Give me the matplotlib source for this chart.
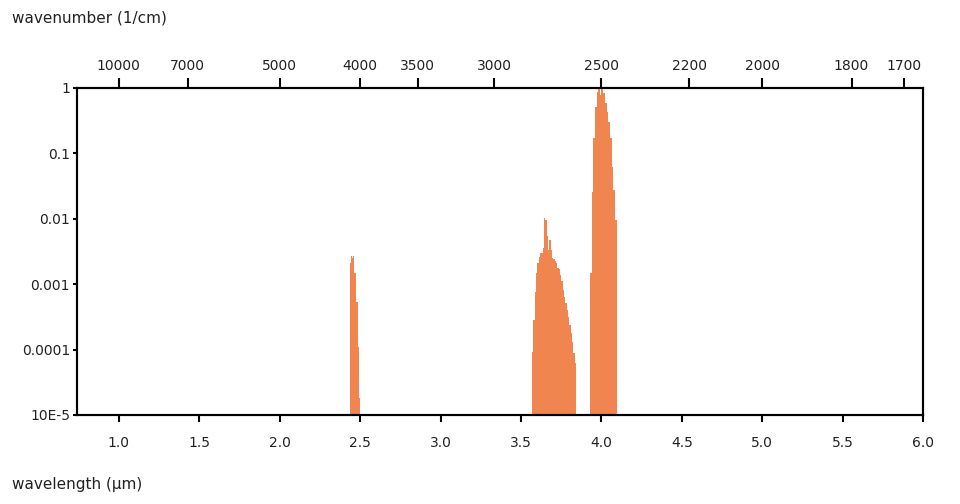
import numpy as np
import matplotlib
matplotlib.use("Agg")
import matplotlib.pyplot as plt

# band edges (wavelength, um) and transmission values
band1_edges = [2.437, 2.445, 2.450, 2.454, 2.462, 2.474, 2.487, 2.495, 2.499]
band1_vals = [0.0021, 0.0027, 0.0025, 0.0027, 0.0015, 0.00054, 0.00011, 1.8e-5]

band2_edges = [3.568, 3.577, 3.585, 3.593, 3.601, 3.610, 3.618, 3.626, 3.635,
               3.643, 3.651, 3.660, 3.668, 3.676, 3.685, 3.693, 3.701, 3.710,
               3.718, 3.726, 3.735, 3.743, 3.751, 3.760, 3.768, 3.776, 3.785,
               3.793, 3.801, 3.810, 3.818, 3.826, 3.835, 3.841]
band2_vals = [9.3e-5, 2.8e-4, 7.7e-4, 1.5e-3, 2.1e-3, 2.6e-3, 3.0e-3, 3.0e-3,
              3.6e-3, 0.0103, 0.0095, 0.0055, 0.0033, 0.0048, 0.0033, 0.0025,
              0.0024, 0.0023, 0.0021, 0.0018, 0.0017, 0.0014, 0.0011, 8.1e-4,
              6.3e-4, 5.1e-4, 4.0e-4, 3.2e-4, 2.4e-4, 1.8e-4, 1.3e-4, 8.9e-5,
              6.3e-5]

band3_edges = [3.929, 3.940, 3.950, 3.960, 3.971, 3.981, 3.990, 3.998, 4.006,
               4.012, 4.022, 4.033, 4.043, 4.053, 4.064, 4.074, 4.084, 4.095,
               4.099]
band3_vals = [0.0015, 0.026, 0.17, 0.51, 0.87, 1.0, 0.78, 1.0, 1.0, 0.84,
              0.59, 0.43, 0.30, 0.17, 0.062, 0.028, 0.0096, 0.0013]

wl_ticks = [1.0, 1.5, 2.0, 2.5, 3.0, 3.5, 4.0, 4.5, 5.0, 5.5, 6.0]
wn_ticks = [10000, 7000, 5000, 4000, 3500, 3000, 2500, 2200, 2000, 1800, 1700]
y_ticks = [1, 0.1, 0.01, 0.001, 0.0001, 1e-5]
y_labels = ['1', '0.1', '0.01', '0.001', '0.0001', '10E-5']

color = '#F0854F'
txt = '#222222'

fig = plt.figure(figsize=(9.6, 5.04), dpi=100)
ax = fig.add_axes([0.0802, 0.1766, 0.8813, 0.6488])

for edges, vals in [(band1_edges, band1_vals), (band2_edges, band2_vals),
                    (band3_edges, band3_vals)]:
    ax.stairs(vals, edges, fill=True, baseline=1e-5, color=color, lw=0)

ax.set_yscale('log')
ax.set_ylim(1e-5, 1)
ax.set_xlim(0.74, 6.0)
ax.set_yticks(y_ticks)
ax.set_yticklabels(y_labels)
ax.minorticks_off()
ax.set_xticks(wl_ticks)
ax.set_xticklabels(['%.1f' % t for t in wl_ticks])

for s in ax.spines.values():
    s.set_linewidth(1.5)
    s.set_color('black')

ax.tick_params(axis='x', direction='out', length=5, width=1.5, pad=10,
               labelsize=10, labelcolor=txt)
ax.tick_params(axis='y', direction='out', length=3, width=1.5, pad=2,
               labelsize=10, labelcolor=txt)

# top axis in wavenumber
ax2 = ax.twiny()
ax2.set_xlim(ax.get_xlim())
ax2.set_xticks([1e4 / w for w in wn_ticks])
ax2.set_xticklabels([str(w) for w in wn_ticks])
ax2.tick_params(axis='x', direction='out', length=7, width=1.5, pad=4,
                labelsize=10, labelcolor=txt)
ax2.minorticks_off()
for s in ax2.spines.values():
    s.set_linewidth(1.5)

fig.text(12 / 960, 1 - 18 / 504, 'wavenumber (1/cm)', fontsize=11,
         color=txt, ha='left', va='center')
fig.text(12 / 960, 1 - 485 / 504, 'wavelength (µm)', fontsize=11,
         color=txt, ha='left', va='center')

fig.savefig('out.png', dpi=100)
